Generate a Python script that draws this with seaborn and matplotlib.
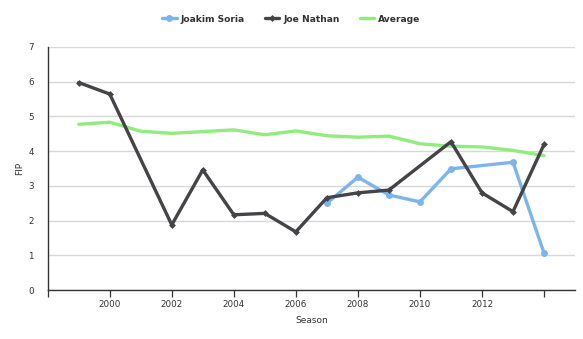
import matplotlib
matplotlib.use("Agg")
import matplotlib.pyplot as plt
import seaborn as sns
import pandas as pd

soria_years = [2007, 2008, 2009, 2010, 2011, 2013, 2014]
soria_fip = [2.50, 3.25, 2.74, 2.54, 3.49, 3.68, 1.07]

nathan_years = [1999, 2000, 2002, 2003, 2004, 2005, 2006, 2007, 2008, 2009, 2011, 2012, 2013, 2014]
nathan_fip = [5.97, 5.64, 1.88, 3.46, 2.17, 2.21, 1.68, 2.66, 2.80, 2.88, 4.27, 2.80, 2.26, 4.19]

avg_years = list(range(1999, 2015))
avg_fip = [4.77, 4.83, 4.57, 4.51, 4.56, 4.61, 4.47, 4.58, 4.44, 4.40, 4.43, 4.21, 4.14, 4.12, 4.02, 3.87]

x_ticks = list(range(1998, 2015, 2))
x_labels = ["", "2000", "2002", "2004", "2006", "2008", "2010", "2012", ""]
y_ticks = list(range(0, 8))

sns.set_theme(style="white")
plt.rcParams['font.family'] = ['DejaVu Sans']

fig = plt.figure(figsize=(5.83, 3.39), dpi=100)
ax = fig.add_axes([0.0818, 0.1437, 0.9863 - 0.0818, 0.8622 - 0.1437])

df_s = pd.DataFrame({"Season": soria_years, "FIP": soria_fip})
df_n = pd.DataFrame({"Season": nathan_years, "FIP": nathan_fip})
df_a = pd.DataFrame({"Season": avg_years, "FIP": avg_fip})

sns.lineplot(data=df_s, x="Season", y="FIP", ax=ax, color="#7cb5ec", linewidth=2.4,
             marker="o", markersize=5, markeredgewidth=0, label="Joakim Soria", zorder=3)
sns.lineplot(data=df_n, x="Season", y="FIP", ax=ax, color="#434348", linewidth=2.4,
             marker="D", markersize=3.5, markeredgewidth=0, label="Joe Nathan", zorder=4)
sns.lineplot(data=df_a, x="Season", y="FIP", ax=ax, color="#90ed7d", linewidth=2.4,
             label="Average", zorder=2)

ax.set_xlim(1998, 2015)
ax.set_ylim(0, 7)
ax.set_xticks(x_ticks)
ax.set_xticklabels(x_labels)
ax.set_yticks(y_ticks)
ax.tick_params(axis="x", length=5, width=0.9, color="#333333", direction="out", pad=2,
               labelsize=6.3, labelcolor="#333333", bottom=True)
ax.tick_params(axis="y", length=0, pad=10, labelsize=6.3, labelcolor="#333333")
ax.yaxis.grid(True, color="#d8d8d8", linewidth=1)
ax.xaxis.grid(False)
for s in ["top", "right"]:
    ax.spines[s].set_visible(False)
for s in ["left", "bottom"]:
    ax.spines[s].set_color("#333333")
    ax.spines[s].set_linewidth(1.0)

ax.set_xlabel("Season", fontsize=6.5, color="#333333", labelpad=5)
ax.set_ylabel("FIP", fontsize=6.5, color="#333333", labelpad=3)

handles, labels = ax.get_legend_handles_labels()
ax.get_legend().remove()
leg = fig.legend(handles, labels, loc="center", bbox_to_anchor=(0.5, 1 - 19 / 339), ncol=3,
                 frameon=False, fontsize=6.6, handlelength=1.55, columnspacing=2.2,
                 handletextpad=0.45)
for t in leg.get_texts():
    t.set_fontweight("bold")
    t.set_color("#333333")

fig.savefig("out.png", dpi=100)
